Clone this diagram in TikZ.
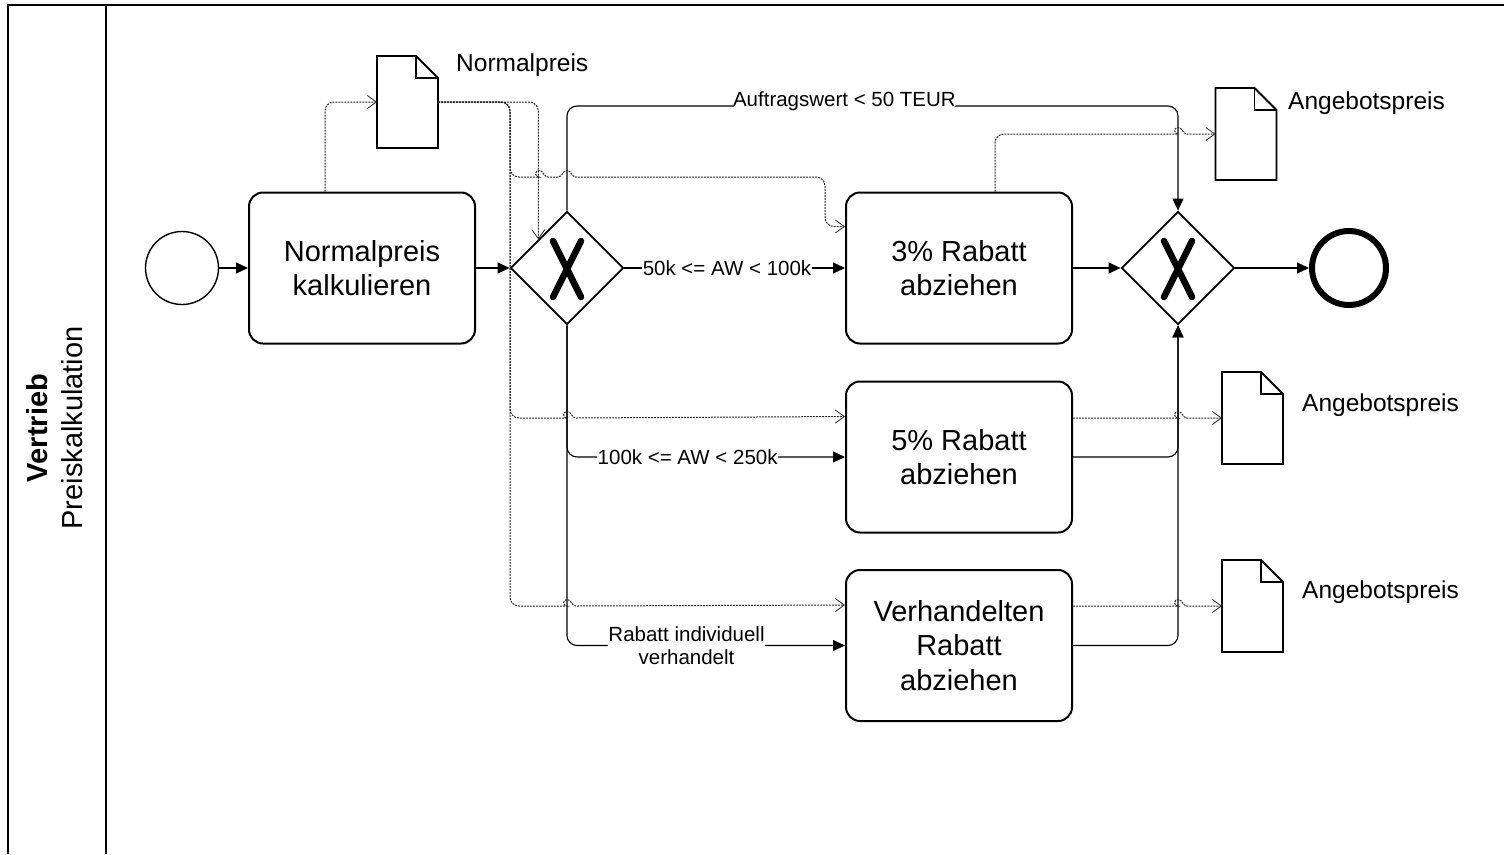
\documentclass[tikz,border=0pt]{standalone}
\usepackage{fontspec}
\setmainfont{Liberation Sans}
\usetikzlibrary{shapes.geometric,arrows.meta}
\newcommand\hopsharp[2]{-- ({#1-9},#2) [sharp corners] .. controls ({#1-4.5},#2) and ({#1-4.5},{#2-6.5}) .. (#1,{#2-6.5}) .. controls ({#1+4.5},{#2-6.5}) and ({#1+4.5},#2) .. ({#1+9},#2)}
\newcommand\docshape[1]{%
  \draw[docline] (#1.south west) -- (#1.north west) -- ([xshift=-22pt]#1.north east) -- ([yshift=-22pt]#1.north east) -- (#1.south east) -- cycle;
  \draw[docline] ([xshift=-22pt]#1.north east) |- ([yshift=-22pt]#1.north east);}
\begin{document}
\begin{tikzpicture}[x=1pt,y=-1pt,
  task/.style={draw, line width=2pt, rounded corners=14pt, minimum width=226pt, minimum height=151pt, align=center, font=\fontsize{29}{34.5}\selectfont, inner sep=0pt},
  gate/.style={draw, diamond, line width=1.8pt, minimum width=113pt, minimum height=113pt, inner sep=0pt},
  gatex/.style={line width=6.5pt, line cap=round},
  startev/.style={draw, circle, line width=1.4pt, minimum size=73pt, inner sep=0pt},
  endev/.style={draw, circle, line width=6pt, minimum size=74pt, inner sep=0pt},
  docbox/.style={minimum width=61pt, minimum height=92pt, inner sep=0pt, outer sep=0pt},
  docline/.style={line width=1.8pt, line join=miter},
  dlabel/.style={anchor=west, font=\fontsize{24.5}{28}\selectfont, inner sep=0pt},
  elabel/.style={fill=white, font=\fontsize{20.5}{23}\selectfont, inner sep=0.6pt, align=center},
  flow/.style={line width=1.1pt, -{Triangle[length=12pt,width=11pt]}, rounded corners=10pt},
  data/.style={line width=1pt, draw=black!85, dash pattern=on 2pt off 1pt, -{Straight Barb[length=9pt,width=13pt,line width=0.8pt]}, rounded corners=9pt},
  lane/.style={line width=2.4pt}
]
\useasboundingbox (0,0) rectangle (1504,854);
% lane
\draw[lane] (8,854) -- (8,5) -- (1504,5);
\draw[lane] (106,5) -- (106,854);
\node[rotate=90, align=center, font=\fontsize{29}{35}\selectfont] (lanelbl) at (55,428) {\textbf{Vertrieb}\\Preiskalkulation};

% nodes
\node[startev] (start) at (182,268) {};
\node[task] (t1) at (362,268) {Normalpreis\\kalkulieren};
\node[gate] (g1) at (567,268) {};
\draw[gatex] (553,241) -- (581,297);
\draw[gatex] (581,241) -- (553,297);
\node[task] (t3) at (959,268) {3\% Rabatt\\abziehen};
\node[task] (t5) at (959,457) {5\% Rabatt\\abziehen};
\node[task] (tv) at (959,645.5) {Verhandelten\\Rabatt\\abziehen};
\node[gate] (g2) at (1178,268) {};
\draw[gatex] (1164,241) -- (1192,297);
\draw[gatex] (1192,241) -- (1164,297);
\node[endev] (end) at (1349,268) {};

% documents
\node[docbox] (docN) at (407.5,102) {};
\docshape{docN}
\node[dlabel] (lN) at (456,65) {Normalpreis};
\node[docbox] (docA1) at (1246,134) {};
\docshape{docA1}
\node[dlabel] (lA1) at (1288,103) {Angebotspreis};
\node[docbox] (docA2) at (1252.5,418) {};
\docshape{docA2}
\node[dlabel] (lA2) at (1302,405) {Angebotspreis};
\node[docbox] (docA3) at (1252.5,606) {};
\docshape{docA3}
\node[dlabel] (lA3) at (1302,592) {Angebotspreis};

% sequence flows
\draw[flow] (start.east) -- (t1.west);
\draw[flow] (t1.east) -- (g1.west);
\draw[flow] (g1.east) -- node[elabel, pos=0.465] {50k <= AW < 100k} (t3.west);
\coordinate (topr) at (1178,106);
\draw[flow] (g1.north) |- node[elabel, pos=0.727, yshift=5pt] {Auftragswert < 50 TEUR} (topr) -- (g2.north);
\draw[flow] (g1.south) |- node[elabel, pos=0.717] {100k <= AW < 250k} (t5.west);
\draw[flow] (g1.south) |- node[elabel, pos=0.715] {Rabatt individuell\\verhandelt} (tv.west);
\draw[flow] (t3.east) -- (g2.west);
\draw[flow] (t5.east) -| (g2.south);
\draw[flow] (tv.east) -| (g2.south);
\draw[flow] (g2.east) -- (end.west);

% data associations
\draw[data] ([xshift=-37pt]t1.north) |- (docN.west);
\draw[data] (docN.east) -| (g1.north west);
\draw[data] (docN.east) -| (510,177) \hopsharp{539}{177} -- (558,177) .. controls (562.5,177) and (562.5,170.5) .. (567,170.5) .. controls (571.5,170.5) and (571.5,177) .. (576,177) -- (600,177) [rounded corners=9pt] -- (825,177) |- ([yshift=-35pt]t3.north west);
\draw[data] (docN.east) -| (510,418) \hopsharp{567}{418} -- ([yshift=-36pt]t5.north west);
\draw[data] (docN.east) -| (510,606) \hopsharp{567}{606} -- ([yshift=-36pt]tv.north west);
\draw[data] ([xshift=36pt]t3.north) |- (1100,134) \hopsharp{1178}{134} -- (docA1.west);
\draw[data] ([yshift=39pt]t5.east) \hopsharp{1178}{418} -- (docA2.west);
\draw[data] ([yshift=39.5pt]tv.east) \hopsharp{1178}{606} -- (docA3.west);
\end{tikzpicture}
\end{document}
